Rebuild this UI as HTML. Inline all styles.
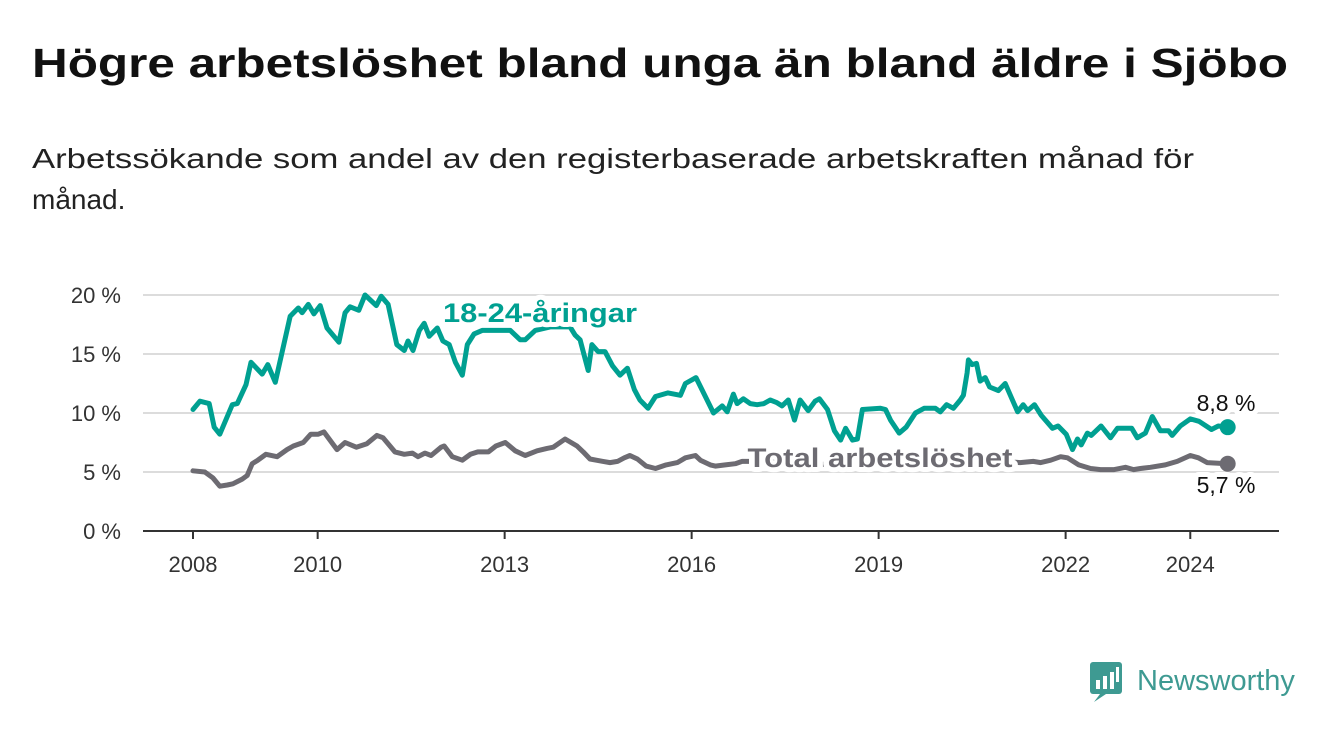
<!DOCTYPE html>
<html><head><meta charset="utf-8"><style>
html,body{margin:0;padding:0;background:#fff;}
svg{display:block;font-family:"Liberation Sans",sans-serif;}
</style></head><body>
<svg width="1340" height="734" viewBox="0 0 1340 734">
<text x="32" y="77" font-size="41" font-weight="bold" fill="#111" textLength="1256" lengthAdjust="spacingAndGlyphs">Högre arbetslöshet bland unga än bland äldre i Sjöbo</text>
<text x="32" y="168" font-size="28" fill="#222" textLength="1162" lengthAdjust="spacingAndGlyphs">Arbetssökande som andel av den registerbaserade arbetskraften månad för</text>
<text x="32" y="209" font-size="28" fill="#222">månad.</text>
<g id="grid"></g>
<g id="series"></g>
<g id="labels"></g>
<g>
<rect x="1090" y="662" width="32" height="32" rx="3" fill="#3e9a92"/>
<path d="M1100 694 L1094 702 L1106 694 Z" fill="#3e9a92"/>
<rect x="1096" y="680" width="4" height="9" fill="#fff"/><rect x="1103" y="676" width="4" height="13" fill="#fff"/><rect x="1110" y="672" width="4" height="17" fill="#fff"/><rect x="1116" y="667" width="3" height="15" fill="#fff"/>
<text x="1137" y="690" font-size="29" fill="#3e9a92">Newsworthy</text>
</g>
</svg>
<script>
const yTicks=[0,5,10,15,20];
const xTicks=[2008,2010,2013,2016,2019,2022,2024];
const youthDates=[2008.00,2008.11,2008.26,2008.34,2008.43,2008.63,2008.71,2008.85,2008.93,2009.11,2009.20,2009.32,2009.56,2009.69,2009.75,2009.85,2009.94,2010.04,2010.15,2010.34,2010.44,2010.52,2010.66,2010.76,2010.94,2011.02,2011.13,2011.27,2011.39,2011.45,2011.53,2011.63,2011.71,2011.79,2011.92,2012.01,2012.11,2012.21,2012.32,2012.40,2012.51,2012.64,2012.85,2013.09,2013.25,2013.33,2013.49,2013.73,2014.05,2014.13,2014.21,2014.34,2014.40,2014.50,2014.61,2014.73,2014.85,2014.97,2015.08,2015.17,2015.30,2015.42,2015.62,2015.82,2015.90,2016.07,2016.35,2016.49,2016.57,2016.67,2016.73,2016.83,2016.94,2017.05,2017.16,2017.26,2017.36,2017.45,2017.55,2017.65,2017.74,2017.87,2017.98,2018.05,2018.18,2018.29,2018.39,2018.47,2018.58,2018.66,2018.74,2019.03,2019.11,2019.19,2019.33,2019.44,2019.59,2019.73,2019.91,2019.99,2020.09,2020.20,2020.31,2020.36,2020.42,2020.44,2020.50,2020.57,2020.63,2020.71,2020.78,2020.92,2021.03,2021.23,2021.32,2021.39,2021.50,2021.61,2021.79,2021.88,2022.01,2022.11,2022.19,2022.25,2022.35,2022.41,2022.57,2022.72,2022.83,2023.06,2023.15,2023.28,2023.39,2023.52,2023.65,2023.71,2023.84,2024.00,2024.14,2024.34,2024.45,2024.60];
const youthValues=[10.3,11.0,10.8,8.8,8.2,10.7,10.8,12.4,14.3,13.3,14.1,12.6,18.2,18.9,18.5,19.2,18.4,19.1,17.2,16.0,18.5,19.0,18.7,20.0,19.1,19.9,19.2,15.8,15.3,16.1,15.3,17.0,17.6,16.5,17.2,16.1,15.8,14.3,13.2,15.8,16.7,17.0,17.0,17.0,16.2,16.2,17.0,17.3,17.3,16.6,16.2,13.6,15.8,15.2,15.2,14.0,13.2,13.8,12.0,11.1,10.4,11.4,11.7,11.5,12.5,13.0,10.0,10.6,10.1,11.6,10.8,11.2,10.8,10.7,10.8,11.1,10.9,10.6,11.1,9.4,11.1,10.2,11.0,11.2,10.3,8.5,7.7,8.7,7.7,7.8,10.3,10.4,10.3,9.4,8.3,8.8,10.0,10.4,10.4,10.1,10.7,10.4,11.1,11.5,13.4,14.5,14.1,14.2,12.7,13.0,12.2,11.9,12.5,10.1,10.7,10.2,10.7,9.8,8.7,8.9,8.2,6.9,7.8,7.3,8.3,8.1,8.9,7.9,8.7,8.7,7.9,8.3,9.7,8.5,8.5,8.1,8.9,9.5,9.3,8.6,8.9,8.8];
const totalDates=[2008.00,2008.19,2008.32,2008.43,2008.55,2008.64,2008.79,2008.87,2008.95,2009.04,2009.17,2009.35,2009.51,2009.61,2009.77,2009.89,2010.01,2010.10,2010.31,2010.44,2010.62,2010.79,2010.95,2011.05,2011.24,2011.39,2011.52,2011.61,2011.72,2011.82,2011.98,2012.03,2012.16,2012.32,2012.45,2012.57,2012.74,2012.86,2013.01,2013.17,2013.33,2013.52,2013.68,2013.78,2013.97,2014.16,2014.26,2014.37,2014.47,2014.58,2014.69,2014.81,2014.92,2015.01,2015.13,2015.27,2015.42,2015.59,2015.77,2015.90,2016.06,2016.14,2016.30,2016.38,2016.54,2016.70,2016.81,2017.2,2017.8,2018.5,2019.2,2019.9,2020.35,2020.6,2021.0,2021.27,2021.48,2021.60,2021.76,2021.92,2022.03,2022.21,2022.40,2022.56,2022.78,2022.96,2023.09,2023.20,2023.36,2023.60,2023.79,2024.00,2024.13,2024.27,2024.60];
const totalValues=[5.1,5.0,4.5,3.8,3.9,4.0,4.4,4.7,5.7,6.0,6.5,6.3,6.9,7.2,7.5,8.2,8.2,8.4,6.9,7.5,7.1,7.4,8.1,7.9,6.7,6.5,6.6,6.3,6.6,6.4,7.1,7.2,6.3,6.0,6.5,6.7,6.7,7.2,7.5,6.8,6.4,6.8,7.0,7.1,7.8,7.2,6.7,6.1,6.0,5.9,5.8,5.9,6.2,6.4,6.1,5.5,5.3,5.6,5.8,6.2,6.4,6.0,5.6,5.5,5.6,5.7,5.9,5.9,5.7,5.6,5.6,5.7,6.2,6.0,5.9,5.8,5.9,5.8,6.0,6.3,6.2,5.6,5.3,5.2,5.2,5.4,5.2,5.3,5.4,5.6,5.9,6.4,6.2,5.8,5.7];
const youthLabel="18-24-åringar", totalLabel="Total arbetslöshet";

const NS="http://www.w3.org/2000/svg";
const X0=143,X1=1279;
const xs=y=>193+(y-2008)*62.33;
const ys=v=>531-v*11.8;
function mk(tag,attrs,parent,txt){const e=document.createElementNS(NS,tag);for(const k in attrs)e.setAttribute(k,attrs[k]);if(txt!==undefined)e.textContent=txt;parent.appendChild(e);return e;}
const grid=document.getElementById('grid');
yTicks.forEach(t=>{
  if(t>0){const l=mk('line',{x1:X0,x2:X1,y1:ys(t),y2:ys(t),stroke:'#dcdcdc','stroke-width':2},grid);
  
  }
  const tx=mk('text',{x:121,y:ys(t)+8,'font-size':22,fill:'#333','text-anchor':'end'},grid,t+' %');
  
  
});
const ax=mk('line',{x1:X0,x2:X1,y1:531,y2:531,stroke:'#333','stroke-width':2},grid);


xTicks.forEach(t=>{
  mk('line',{x1:xs(t),x2:xs(t),y1:531,y2:539,stroke:'#333','stroke-width':2},grid);
  const tx=mk('text',{x:xs(t),y:572,'font-size':22,fill:'#333','text-anchor':'middle'},grid,String(t));
  
  
});
const ser=document.getElementById('series');
function line(d,v,color,name){
  const p=mk('path',{d:d.map((x,i)=>(i?'L':'M')+xs(x).toFixed(1)+' '+ys(v[i]).toFixed(1)).join(''),fill:'none',stroke:color,'stroke-width':5,'stroke-linejoin':'round','stroke-linecap':'round'},ser);
  
  
  const n=d.length-1;
  const c=mk('circle',{cx:xs(d[n]),cy:ys(v[n]),r:8,fill:color},ser);
  
  
}
line(totalDates,totalValues,'#6d6b72','total');
line(youthDates,youthValues,'#00a091','youth');
const lab=document.getElementById('labels');
function lbl(txt,x,y,color,size,bold,anchor,name,len){
  const a={x:x,y:y,'font-size':size,'font-weight':bold?'bold':'normal','text-anchor':anchor};
  if(len){a.textLength=len;a.lengthAdjust='spacingAndGlyphs';}
  mk('text',Object.assign({},a,{fill:'#fff',stroke:'#fff','stroke-width':10,'stroke-linejoin':'round'}),lab,txt);
  const t=mk('text',Object.assign({},a,{fill:color}),lab,txt);
  
  
}
lbl(youthLabel,540,322,'#00a091',27,true,'middle','youth-series-label',194);
lbl(totalLabel,880,467,'#6d6b72',27,true,'middle','total-series-label',265);
const n1=youthValues.length-1,n2=totalValues.length-1;
lbl(youthValues[n1].toFixed(1).replace('.',',')+' %',1226,411,'#111',23,false,'middle','youth-end-value');
lbl(totalValues[n2].toFixed(1).replace('.',',')+' %',1226,493,'#111',23,false,'middle','total-end-value');
</script>
</body></html>
